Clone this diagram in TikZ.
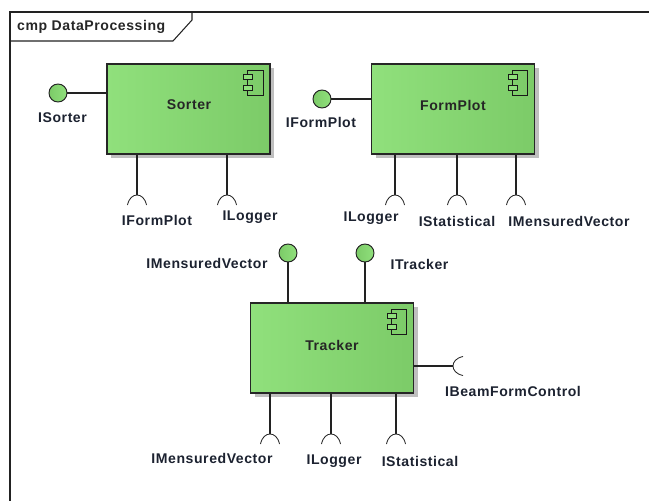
\documentclass[tikz,border=0pt]{standalone}
\usepackage{fontspec}
\setmainfont[LetterSpace=4]{Liberation Sans}
\usepackage{xcolor}
\usetikzlibrary{shadows}
\definecolor{compgreen}{HTML}{90E07C}
\definecolor{compdark}{HTML}{7CCB68}
\definecolor{linegray}{HTML}{222222}
\definecolor{textdark}{HTML}{1C2230}
\tikzset{
    frameline/.style={draw=linegray,line width=0.9pt},
    component/.style={rectangle,draw=black!85,line width=1.1pt,minimum width=4.89cm,minimum height=2.7cm,
        left color=compgreen,middle color=compgreen,right color=compdark,
        drop shadow={shadow xshift=0.12cm,shadow yshift=-0.12cm,fill=black!25,opacity=1}},
    compname/.style={inner sep=0pt,font=\fontsize{12}{14}\selectfont\bfseries,text=black!85},
    iface/.style={circle,draw=linegray,line width=0.8pt,minimum size=0.54cm,inner sep=0pt,
        left color=compdark,right color=compgreen},
    ifacename/.style={inner sep=0pt,font=\fontsize{12}{14}\selectfont\bfseries,text=textdark},
    wire/.style={draw=linegray,line width=0.9pt},
    socket/.style={draw=linegray,line width=0.7pt},
    icon/.style={draw=black!90,line width=0.8pt}
}
\begin{document}
\begin{tikzpicture}[x=0.03cm,y=-0.03cm]
    \useasboundingbox (0,0) rectangle (649,501);

    % frame
    \coordinate (frameend) at (649,12);
    \coordinate (framecorner) at (10,12);
    \coordinate (framebottom) at (10,501);
    \coordinate (tabcorner) at (192,12);
    \coordinate (tabfold) at (192,20);
    \coordinate (tabslant) at (173,41);
    \coordinate (tabstart) at (10,41);
    \draw[frameline] (frameend) -- (framecorner) -- (framebottom);
    \draw[frameline] (tabstart) -- (tabslant) -- (tabfold) -- (tabcorner);
    \node[compname,anchor=west] (frametitle) at (17,27) {cmp DataProcessing};

    % components
    \node[component] (sorter) at (188.5,109) {};
    \node[component] (formplot) at (453,109) {};
    \node[component] (tracker) at (332,348) {};
    \node[compname] (sortername) at (189,105) {Sorter};
    \node[compname] (formplotname) at (453,105) {FormPlot};
    \node[compname] (trackername) at (332,345) {Tracker};

    % component icon
    \foreach \comp in {sorter,formplot,tracker} {
        \draw[icon] ([shift={(-22.7,7.3)}]\comp.north east) rectangle ([shift={(-7.3,32.3)}]\comp.north east);
        \draw[icon,fill=compgreen] ([shift={(-27,11)}]\comp.north east) rectangle ([shift={(-18,16)}]\comp.north east);
        \draw[icon,fill=compgreen] ([shift={(-27,21.7)}]\comp.north east) rectangle ([shift={(-18,26.7)}]\comp.north east);
    }

    % provided interfaces
    \node[iface] (isorter) at (58,93) {};
    \node[iface] (iformplot) at (322,99) {};
    \node[iface] (ivectorout) at (288,253) {};
    \node[iface] (itracker) at (365,253) {};

    \draw[wire] (isorter) -- (isorter -| sorter.west);
    \draw[wire] (iformplot) -- (iformplot -| formplot.west);
    \draw[wire] (ivectorout) -- (ivectorout |- tracker.north);
    \draw[wire] (itracker) -- (itracker |- tracker.north);

    % required interfaces
    \coordinate (sorterform) at (137,195);
    \coordinate (sorterlog) at (227,195);
    \coordinate (plotlog) at (395,195);
    \coordinate (plotstat) at (457,195);
    \coordinate (plotvector) at (516,195);
    \coordinate (trackvector) at (270,434);
    \coordinate (tracklog) at (331,434);
    \coordinate (trackstat) at (396,434);
    \coordinate (trackbeam) at (453,366);

    \foreach \req/\comp in {sorterform/sorter,sorterlog/sorter,plotlog/formplot,plotstat/formplot,plotvector/formplot,trackvector/tracker,tracklog/tracker,trackstat/tracker} {
        \draw[wire] (\req) -- (\req |- \comp.south);
        \draw[socket,shift={(\req)}] (-9.5,10) .. controls (-8,3) and (-4,0) .. (0,0) .. controls (4,0) and (8,3) .. (9.5,10);
    }
    \draw[wire] (trackbeam) -- (trackbeam -| tracker.east);
    \draw[socket,shift={(trackbeam)}] (10,-9.5) .. controls (3,-8) and (0,-4) .. (0,0) .. controls (0,4) and (3,8) .. (10,9.5);

    % labels
    \node[ifacename] (isorterlabel) at (62.5,118) {ISorter};
    \node[ifacename] (sorterformlabel) at (157,220) {IFormPlot};
    \node[ifacename] (sorterloglabel) at (250,217) {ILogger};
    \node[ifacename] (iformplotlabel) at (321,122) {IFormPlot};
    \node[ifacename] (plotloglabel) at (371,218) {ILogger};
    \node[ifacename] (plotstatlabel) at (457,221) {IStatistical};
    \node[ifacename] (plotvectorlabel) at (569,221) {IMensuredVector};
    \node[ifacename] (ivectoroutlabel) at (207,263) {IMensuredVector};
    \node[ifacename] (itrackerlabel) at (419.5,264) {ITracker};
    \node[ifacename] (trackbeamlabel) at (513,391) {IBeamFormControl};
    \node[ifacename] (trackvectorlabel) at (212,458) {IMensuredVector};
    \node[ifacename] (tracklloglabel) at (334,461) {ILogger};
    \node[ifacename] (trackstatlabel) at (420,461) {IStatistical};
\end{tikzpicture}
\end{document}
